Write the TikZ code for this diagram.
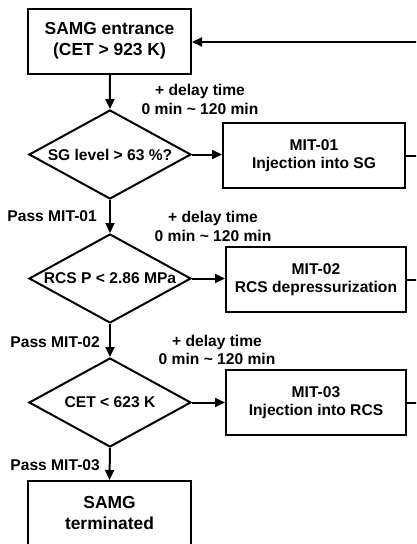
\documentclass[tikz,border=0pt]{standalone}
\usepackage{fontspec}
\setmainfont{Liberation Sans}
\usetikzlibrary{shapes.geometric,arrows.meta}
\tikzset{
  txt/.style={font=\bfseries\fontsize{15.6}{18.5}\selectfont, align=center, inner sep=0pt},
  bigtxt/.style={font=\bfseries\fontsize{17.4}{21}\selectfont, align=center, inner sep=0pt},
  box/.style={draw, line width=2pt, rectangle, inner sep=0pt},
  decision/.style={draw, line width=2pt, diamond, inner sep=0pt,
    minimum width=162pt, minimum height=89pt},
  flow/.style={line width=2pt, -{Triangle[length=10pt,width=9pt]}},
  link/.style={line width=2pt},
}
\begin{document}
\begin{tikzpicture}[x=1pt, y=-1pt]
\clip (0,0) rectangle (416,544);
\fill[white] (0,0) rectangle (416,544);

% main chain of checks
\node[box, bigtxt, minimum width=163pt, minimum height=65pt] (entry) at (109.5,41)
  {SAMG entrance\\(CET > 923 K)};
\node[decision] (d1) at (110,154.5) {};
\node[txt] (d1t) at (d1.center) {SG level > 63 \%?};
\node[decision] (d2) at (110,278.5) {};
\node[txt] (d2t) at (d2.center) {RCS P < 2.86 MPa};
\node[decision] (d3) at (110,402.5) {};
\node[txt] (d3t) at (d3.center) {CET < 623 K};
\node[box, bigtxt, minimum width=163pt, minimum height=65pt] (term) at (109.5,513.5)
  {SAMG\\terminated};

% mitigation actions
\node[box, txt, minimum width=182pt, minimum height=65pt] (m1) at (314,155.5)
  {MIT-01\\Injection into SG};
\node[box, txt, minimum width=180pt, minimum height=65pt] (m2) at (316,279.5)
  {MIT-02\\RCS depressurization};
\node[box, txt, minimum width=180pt, minimum height=65pt] (m3) at (316,402.5)
  {MIT-03\\Injection into RCS};

% delay annotations and pass labels
\node[txt] (dl1) at (200,99.5) {+ delay time\\0 min \textasciitilde{} 120 min};
\node[txt] (dl2) at (213,226.5) {+ delay time\\0 min \textasciitilde{} 120 min};
\node[txt] (dl3) at (217,350) {+ delay time\\0 min \textasciitilde{} 120 min};
\node[txt, anchor=east] (p1) at (97,216) {Pass MIT-01};
\node[txt, anchor=east] (p2) at (100,342) {Pass MIT-02};
\node[txt, anchor=east] (p3) at (100,465) {Pass MIT-03};

% return line on the right
\coordinate (r0) at (418,42);
\coordinate (r1) at (418,155.5);
\coordinate (r2) at (418,279.5);
\coordinate (r3) at (418,402.5);

\draw[flow] (entry) -- (d1.north);
\draw[flow] (d1.south) -- (d2.north);
\draw[flow] (d2.south) -- (d3.north);
\draw[flow] (d3.south) -- (term.north);
\draw[flow] (d1.east) -- (m1.west |- d1.east);
\draw[flow] (d2.east) -- (m2.west |- d2.east);
\draw[flow] (d3.east) -- (m3.west |- d3.east);
\draw[link] (m1.east) -- (r1);
\draw[link] (m2.east) -- (r2);
\draw[link] (m3.east) -- (r3);
\draw[flow] (r0) -- (entry.east |- r0);
\end{tikzpicture}
\end{document}
